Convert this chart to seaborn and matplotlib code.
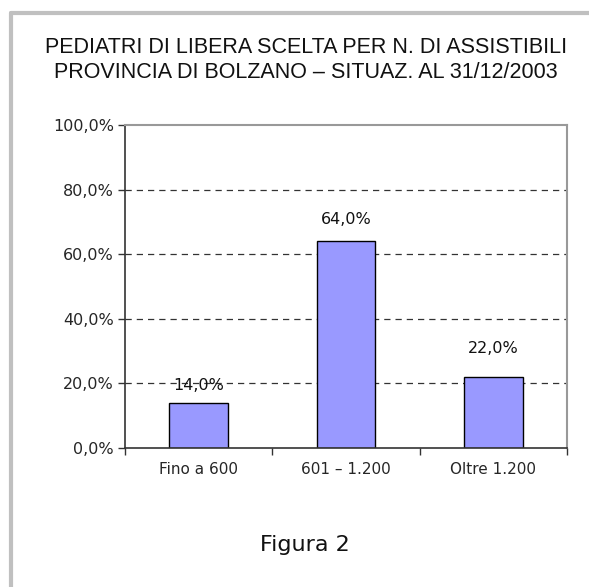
import matplotlib
matplotlib.use("Agg")
import matplotlib.pyplot as plt
import seaborn as sns
import pandas as pd
from matplotlib.lines import Line2D
from matplotlib.ticker import FuncFormatter, FixedLocator

# --- data ---
categories = ["Fino a 600", "601 \u2013 1.200", "Oltre 1.200"]
values = [14.0, 64.0, 22.0]
label_offsets = [7, 10, 15]  # points above bar top, as placed in the original
yticks = [0, 20, 40, 60, 80, 100]

title = ("PEDIATRI DI LIBERA SCELTA PER N. DI ASSISTIBILI\n"
         "PROVINCIA DI BOLZANO \u2013 SITUAZ. AL 31/12/2003")
caption = "Figura 2"

sns.set_theme(style="white")
plt.rcParams["font.family"] = ["DejaVu Sans"]

df = pd.DataFrame({"cat": categories, "val": values})

fig = plt.figure(figsize=(5.89, 5.87), dpi=100)
ax = fig.add_axes([0.2122, 0.2368, 0.7504, 0.5502])

sns.barplot(data=df, x="cat", y="val", color="#9999ff", saturation=1,
            edgecolor="black", linewidth=1, width=0.4, ax=ax)

ax.set_xlim(-0.5, 2.5)
ax.set_ylim(0, 100)
ax.set_xlabel("")
ax.set_ylabel("")

# gridlines
for y in yticks[1:-1]:
    ax.axhline(y, color="#333333", linestyle=(0, (5, 4)), linewidth=0.9, zorder=0)

ax.set_yticks(yticks)
ax.yaxis.set_major_formatter(FuncFormatter(lambda v, p: f"{v:.1f}%".replace(".", ",")))
ax.tick_params(axis="y", which="major", length=5, width=1, color="#333333",
               direction="out", labelsize=11.5, pad=3, left=True)

ax.tick_params(axis="x", which="major", length=0, labelsize=11, pad=10)
ax.xaxis.set_minor_locator(FixedLocator([-0.5, 0.5, 1.5, 2.5]))
ax.tick_params(axis="x", which="minor", length=5, width=1, color="#333333",
               direction="out", bottom=True)

for side in ["left", "bottom"]:
    ax.spines[side].set_color("#333333")
    ax.spines[side].set_linewidth(1.2)
for side in ["top", "right"]:
    ax.spines[side].set_color("#999999")
    ax.spines[side].set_linewidth(1.5)
    ax.spines[side].set_visible(True)

for i, (v, off) in enumerate(zip(values, label_offsets)):
    ax.annotate(f"{v:.1f}%".replace(".", ","), (i, v), xytext=(0, off),
                textcoords="offset points", ha="center", va="bottom",
                fontsize=11.5, color="#111111")

fig.text(0.519, 0.898, title, ha="center", va="center", fontsize=15.5,
         linespacing=1.25, color="#111111", family="Liberation Sans")
fig.text(0.518, 0.072, caption, ha="center", va="center", fontsize=16,
         color="#111111")

# outer grey frame (top and left edges)
fig.add_artist(Line2D([11 / 589, 1], [1 - 13 / 587, 1 - 13 / 587],
                      transform=fig.transFigure, color="#c0c0c0", linewidth=3))
fig.add_artist(Line2D([11 / 589, 11 / 589], [0, 1 - 13 / 587],
                      transform=fig.transFigure, color="#c0c0c0", linewidth=3))

fig.savefig("out.png", dpi=100, facecolor="white")
